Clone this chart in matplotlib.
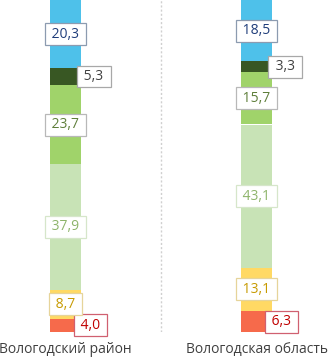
import matplotlib.pyplot as plt

# data (percent shares, bottom to top)
regions = ['Вологодский район', 'Вологодская область']
share_red = [4.0, 6.3]
share_yellow = [8.7, 13.1]
share_lightgreen = [37.9, 43.1]
share_green = [23.7, 15.7]
share_darkgreen = [5.3, 3.3]
share_blue = [20.3, 18.5]

series = [share_red, share_yellow, share_lightgreen, share_green, share_darkgreen, share_blue]
fills = ['#F66A4B', '#FFD964', '#C8E3B6', '#A0D36A', '#385723', '#4EC1EA']
text_cols = ['#C00000', '#C79A00', '#8DB46A', '#5E7E3A', '#404040', '#1F3D7A']
edge_cols = ['#D06070', '#E6D49A', '#D6E6CA', '#B8B8B8', '#A8A8A8', '#8C9BB0']
# small segments get their label pushed to the right of the bar
shift_right = [0.13, 0, 0, 0, 0.148, 0]

plt.rcParams['font.family'] = ['Open Sans', 'DejaVu Sans']

fig = plt.figure(figsize=(3.28, 3.61), dpi=100)
ax = fig.add_axes([0, 1 - 332 / 361, 1, 332 / 361])

x = [0, 1]
width = 0.162
bottom = [0, 0]
for vals, fc, tc, ec, shift in zip(series, fills, text_cols, edge_cols, shift_right):
    ax.bar(x, vals, width=width, bottom=bottom, color=fc, linewidth=0)
    for i in range(len(x)):
        y = bottom[i] + vals[i] / 2
        label = ' ' + f'{vals[i]:.1f}'.replace('.', ',') + ' '
        ax.text(x[i] + shift, y, label, ha='center', va='center',
                fontsize=10, color=tc,
                bbox=dict(boxstyle='square,pad=0.25', fc='white', ec=ec, lw=0.9))
    bottom = [b + v for b, v in zip(bottom, vals)]

ax.axvline(0.5, color='#D0D0D0', lw=1, ls=(0, (1.5, 1.5)))

ax.set_xlim(-0.343, 1.374)
ax.set_ylim(0, 100)
ax.axis('off')

for i, name in enumerate(regions):
    ax.text(x[i], -5.4, name, ha='center', va='center', fontsize=10, color='#404040',
            clip_on=False)

plt.savefig('out.png', dpi=100)
